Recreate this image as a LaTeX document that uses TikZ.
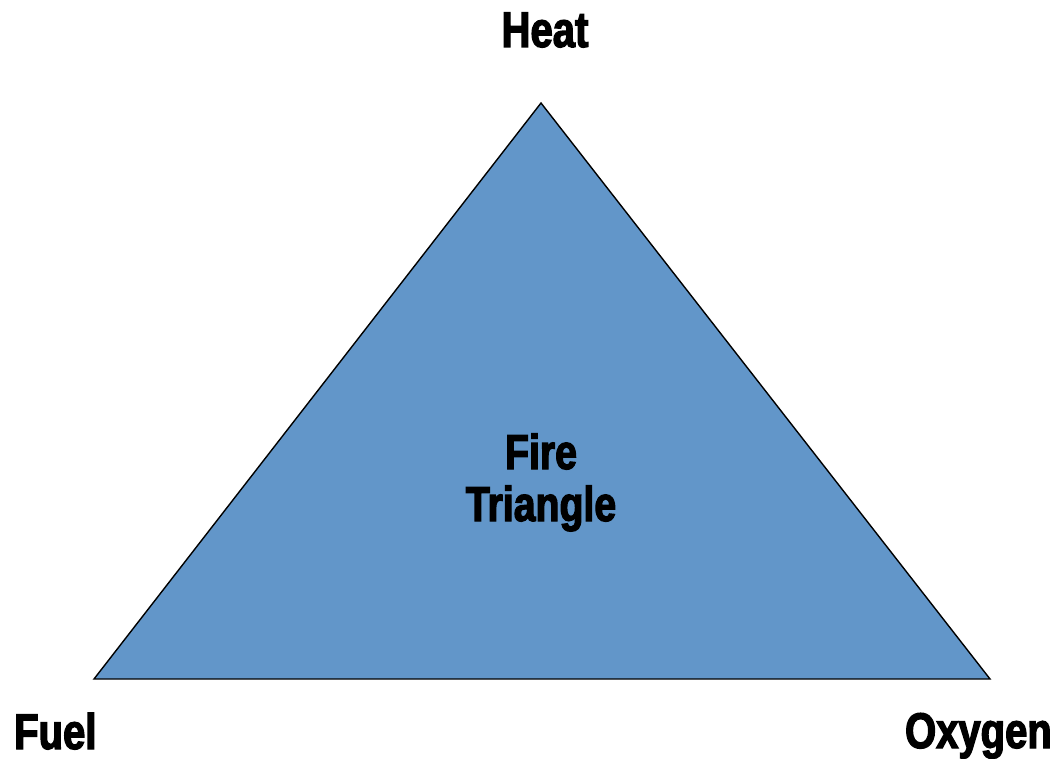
\documentclass[tikz,border=0pt]{standalone}
\usepackage{fontspec}
\newfontfamily\impfont[FakeStretch=0.8,FakeBold=2.6]{Liberation Sans Bold}
\definecolor{triblue}{HTML}{6296C9}
\begin{document}
\begin{tikzpicture}[x=1pt,y=-1pt,
  lbl/.style={font=\impfont\fontsize{50}{54}\selectfont, inner sep=0pt, anchor=base},
  inlbl/.style={font=\impfont\fontsize{49}{54}\selectfont, inner sep=0pt, anchor=base}]
\useasboundingbox (0,0) rectangle (1057,759);
\coordinate (top) at (541,103);
\coordinate (bl) at (94,679);
\coordinate (br) at (990,679);
\filldraw[fill=triblue, draw=black, line width=1.4pt, line join=miter] (top) -- (bl) -- (br) -- cycle;
\node[lbl] (heat) at (545,47) {Heat};
\node[lbl, anchor=base west] (fuel) at (14,749) {Fuel};
\node[lbl, anchor=base east] (oxygen) at (1052,748) {Oxygen};
\node[inlbl] (fire) at (541,469) {Fire};
\node[inlbl] (triangle) at (541,521) {Triangle};
\end{tikzpicture}
\end{document}
